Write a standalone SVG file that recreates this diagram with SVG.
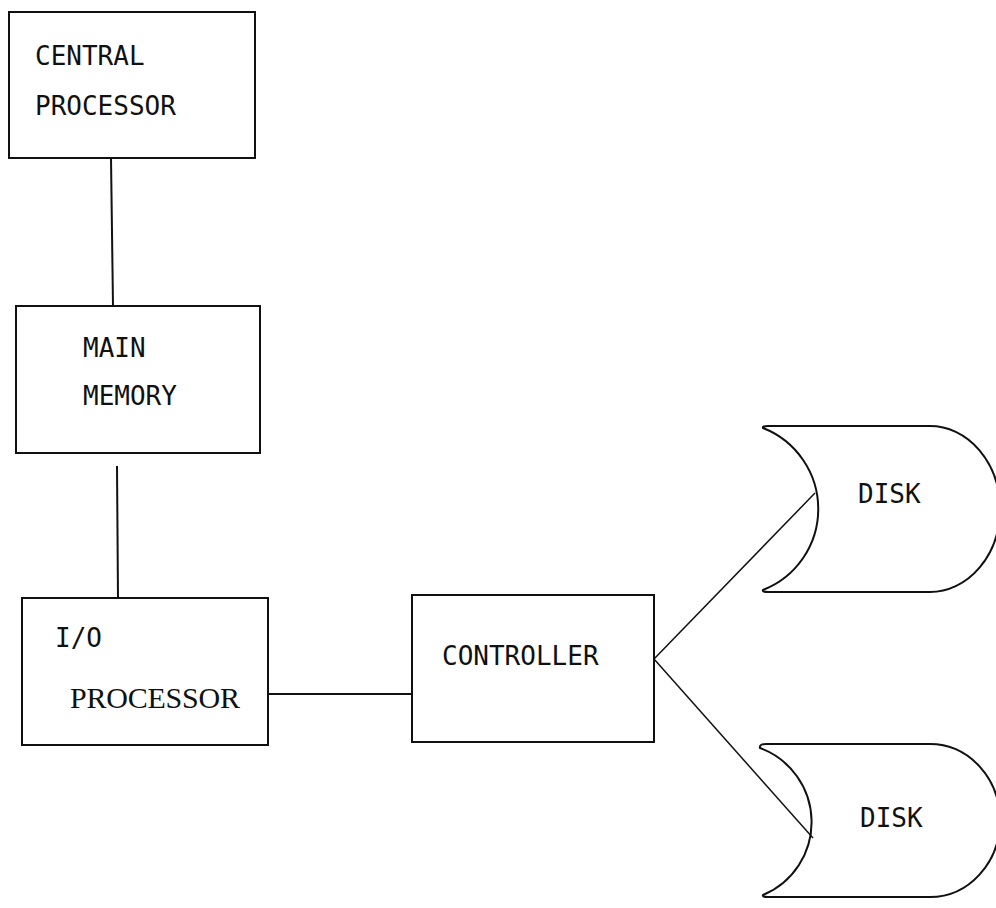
<svg xmlns="http://www.w3.org/2000/svg" width="996" height="908" viewBox="0 0 996 908">
  <style>
    .box { fill: none; stroke: #111; stroke-width: 2; }
    .wire { fill: none; stroke: #111; stroke-width: 2; }
    .thin { stroke-width: 1.5; }
    .lbl { font-family: "DejaVu Sans Mono", "Liberation Mono", monospace; font-size: 26px; fill: #111; }
    .type { font-family: "Liberation Serif", "DejaVu Serif", serif; font-size: 30px; fill: #111; }
  </style>
  <rect width="996" height="908" fill="#fff"/>

  <!-- connectors -->
  <g id="connectors">
    <line class="wire" x1="111" y1="158" x2="113" y2="306"/>
    <line class="wire" x1="117" y1="466" x2="118" y2="598"/>
    <line class="wire" x1="268" y1="694" x2="412" y2="694"/>
    <line class="wire thin" x1="654" y1="659" x2="815" y2="493"/>
    <line class="wire thin" x1="654" y1="659" x2="813" y2="838"/>
  </g>

  <g id="central-processor">
    <rect class="box" x="9" y="12" width="246" height="146"/>
    <text class="lbl" x="35" y="65">CENTRAL</text>
    <text class="lbl" x="35" y="115">PROCESSOR</text>
  </g>

  <g id="main-memory">
    <rect class="box" x="16" y="306" width="244" height="147"/>
    <text class="lbl" x="83" y="357">MAIN</text>
    <text class="lbl" x="83" y="405">MEMORY</text>
  </g>

  <g id="io-processor">
    <rect class="box" x="22" y="598" width="246" height="147"/>
    <text class="lbl" x="55" y="647">I/O</text>
    <text class="type" x="70" y="708" textLength="170" lengthAdjust="spacing">PROCESSOR</text>
  </g>

  <g id="controller">
    <rect class="box" x="412" y="595" width="242" height="147"/>
    <text class="lbl" x="442" y="665">CONTROLLER</text>
  </g>

  <g id="disk-1">
    <path class="box" d="M763,428 Q762,426 768,426 L930,426 A70,83 0 0 1 930,592 L768,592 Q762,592 763,590 A87,87 0 0 0 763,428 Z"/>
    <text class="lbl" x="858" y="503">DISK</text>
  </g>

  <g id="disk-2">
    <path class="box" d="M760,748 Q759,744 766,744 L930,744 A70,76.5 0 0 1 930,897 L768,897 Q762,897 763,895 A79,79 0 0 0 760,748 Z"/>
    <text class="lbl" x="860" y="827">DISK</text>
  </g>
</svg>
